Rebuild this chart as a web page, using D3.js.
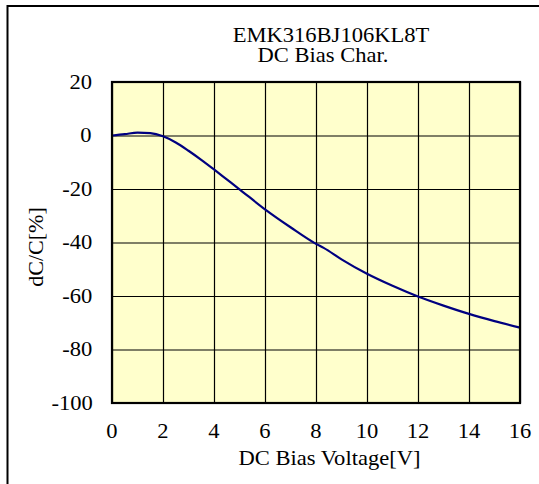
<!DOCTYPE html>
<html>
<head>
<meta charset="utf-8">
<script src="https://cdn.jsdelivr.net/npm/d3@7/dist/d3.min.js"></script>
<style>
  html, body { margin: 0; padding: 0; background: #fff; }
  svg text { font-family: "Liberation Serif", "Times New Roman", serif; fill: #000; }
  .wide { transform-box: fill-box; transform-origin: center; transform: scaleX(1.1); }
</style>
</head>
<body>
<svg id="chart" width="539" height="484"></svg>
<script>
// DC bias curve
const voltage = [0, 0.5, 1, 1.5, 2, 2.5, 3, 3.5, 4, 4.5, 5, 6, 7, 8, 8.3, 9, 10, 11, 12, 13, 14, 15, 16];
const dcdc    = [0, 0.5, 1.1, 0.9, -0.3, -2.6, -5.7, -9.1, -12.7, -16.4, -20.1, -27.6, -34.3, -40.5, -42, -46.3, -51.7, -56.2, -60.2, -63.6, -66.7, -69.4, -71.8];
const xTicks = [0, 2, 4, 6, 8, 10, 12, 14, 16];
const yTicks = [20, 0, -20, -40, -60, -80, -100];
const titleLines = ['EMK316BJ106KL8T', 'DC Bias Char.'];

const svg = d3.select('#chart');

// outer frame (right and bottom edges fall outside the picture)
svg.append('rect')
  .attr('x', 7.5).attr('y', 6)
  .attr('width', 700).attr('height', 700)
  .attr('fill', '#fff')
  .attr('stroke', '#000')
  .attr('stroke-width', 2);

const plot = { left: 112, top: 82, right: 520, bottom: 403 };

const x = d3.scaleLinear().domain([0, 16]).range([plot.left, plot.right]);
const y = d3.scaleLinear().domain([-100, 20]).range([plot.bottom, plot.top]);

// plot background
svg.append('rect')
  .attr('x', plot.left).attr('y', plot.top)
  .attr('width', plot.right - plot.left)
  .attr('height', plot.bottom - plot.top)
  .attr('fill', '#ffffcc');

// grid
svg.append('g')
  .attr('transform', `translate(0,${plot.bottom})`)
  .call(d3.axisBottom(x).tickValues(xTicks).tickSize(-(plot.bottom - plot.top)).tickFormat(''))
  .call((g) => g.select('.domain').remove())
  .selectAll('line').attr('stroke', '#000').attr('stroke-width', 1.2);

svg.append('g')
  .attr('transform', `translate(${plot.left},0)`)
  .call(d3.axisLeft(y).tickValues(yTicks).tickSize(-(plot.right - plot.left)).tickFormat(''))
  .call((g) => g.select('.domain').remove())
  .selectAll('line').attr('stroke', '#000').attr('stroke-width', 1.2);

// curve
const line = d3.line()
  .x((d, i) => x(voltage[i]))
  .y((d) => y(d))
  .curve(d3.curveMonotoneX);

svg.append('path')
  .datum(dcdc)
  .attr('d', line)
  .attr('fill', 'none')
  .attr('stroke', '#000080')
  .attr('stroke-width', 2.2);

// plot border
svg.append('rect')
  .attr('x', plot.left).attr('y', plot.top)
  .attr('width', plot.right - plot.left)
  .attr('height', plot.bottom - plot.top)
  .attr('fill', 'none')
  .attr('stroke', '#000')
  .attr('stroke-width', 2.2);

// tick labels
svg.append('g').selectAll('text')
  .data(xTicks)
  .enter()
  .append('text')
  .attr('class', 'wide')
  .attr('x', (d) => x(d))
  .attr('y', 438)
  .attr('text-anchor', 'middle')
  .attr('font-size', 20.5)
  .text((d) => d);

svg.append('g').selectAll('text')
  .data(yTicks)
  .enter()
  .append('text')
  .attr('class', 'wide')
  .attr('x', 91)
  .attr('y', (d) => y(d) + 7)
  .attr('text-anchor', 'end')
  .attr('font-size', 20.5)
  .text((d) => d);

// title
svg.append('text')
  .attr('class', 'wide')
  .attr('x', 331).attr('y', 42.5)
  .attr('text-anchor', 'middle')
  .attr('font-size', 20.5)
  .text(titleLines[0]);
svg.append('text')
  .attr('class', 'wide')
  .attr('x', 323).attr('y', 62)
  .attr('text-anchor', 'middle')
  .attr('font-size', 20.5)
  .text(titleLines[1]);

// axis titles
svg.append('text')
  .attr('class', 'wide')
  .attr('x', 329.5).attr('y', 465)
  .attr('text-anchor', 'middle')
  .attr('font-size', 20.5)
  .text('DC Bias Voltage[V]');

svg.append('text')
  .attr('transform', 'translate(43,247) rotate(-90)')
  .attr('text-anchor', 'middle')
  .attr('font-size', 22)
  .text('dC/C[%]');
</script>
</body>
</html>
